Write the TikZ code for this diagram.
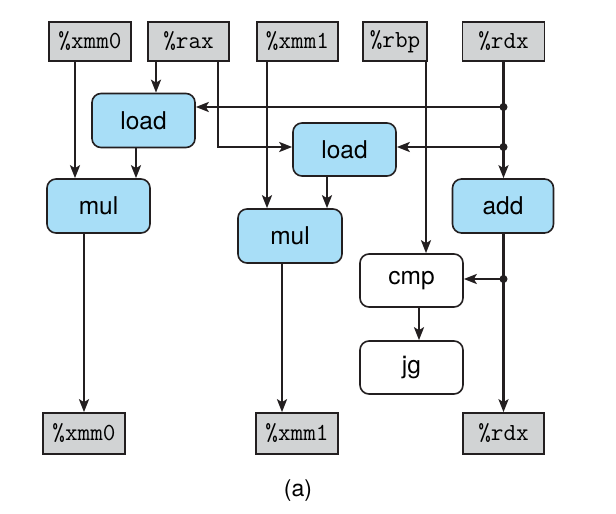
\documentclass[tikz,border=0pt]{standalone}
\usepackage{fontspec}
\setsansfont{TeX Gyre Heros}
\usetikzlibrary{arrows.meta}
\definecolor{edge}{HTML}{231F20}
\definecolor{opblue}{HTML}{A8DEF7}
\definecolor{reggray}{HTML}{D1D3D4}
\begin{document}
\begin{tikzpicture}[x=1pt,y=-1pt,
  reg/.style={draw=edge,line width=1.6pt,fill=reggray,minimum height=39pt,inner sep=0pt,font=\fontsize{24.5}{28}\selectfont\ttfamily},
  op/.style={draw=edge,line width=1.6pt,fill=opblue,rounded corners=9pt,minimum width=103pt,minimum height=54pt,inner sep=0pt,font=\fontsize{24.5}{28}\selectfont\sffamily},
  wop/.style={op,fill=white},
  arr/.style={draw=edge,line width=2.4pt,-{Stealth[length=13pt,width=10pt,inset=3pt]}},
  dot/.style={circle,fill=edge,inner sep=0pt,minimum size=8pt}]
\useasboundingbox (0,0) rectangle (616,514);
% top registers
\node[reg,minimum width=82pt] (xmm0T) at (90,41.5) {\%xmm0};
\node[reg,minimum width=81pt] (raxT) at (188.5,41.5) {\%rax};
\node[reg,minimum width=81pt] (xmm1T) at (297.5,41.5) {\%xmm1};
\node[reg,minimum width=64pt] (rbpT) at (395,41.5) {\%rbp};
\node[reg,minimum width=82pt] (rdxT) at (503.5,41.5) {\%rdx};
% operations
\node[op] (load1) at (143.5,120.5) {load};
\node[op,minimum height=53pt] (load2) at (344.5,149.5) {load};
\node[op] (mul1) at (98.5,206) {mul};
\node[op,minimum width=104pt] (mul2) at (290,236) {mul};
\node[op,minimum width=101pt] (add) at (503,206) {add};
\node[wop,minimum height=53pt] (cmp) at (411.5,280.5) {cmp};
\node[wop,minimum height=53pt] (jg) at (411.5,367.5) {jg};
% bottom registers
\node[reg,minimum width=82pt,minimum height=41pt] (xmm0B) at (84,433.5) {\%xmm0};
\node[reg,minimum width=82pt,minimum height=41pt] (xmm1B) at (297,433.5) {\%xmm1};
\node[reg,minimum width=81pt,minimum height=41pt] (rdxB) at (503.5,433.5) {\%rdx};
\node[font=\fontsize{23}{27}\selectfont\sffamily] (cap) at (298,491) {(a)};
% junctions on the %rdx line
\coordinate (j1) at (503.5,107);
\coordinate (j2) at (503.5,147);
\coordinate (j3) at (503.5,279);
% connectors
\draw[arr] ([xshift=-15pt]xmm0T.south) -- ([xshift=-15pt]xmm0T.south |- mul1.north);
\draw[arr] ([xshift=-32.5pt]raxT.south) -- ([xshift=-32.5pt]raxT.south |- load1.north);
\draw[arr] ([xshift=29.5pt]raxT.south) |- ([yshift=2.5pt]load2.west);
\draw[arr] ([xshift=-7.5pt]load1.south) -- ([xshift=-7.5pt]load1.south |- mul1.north);
\draw[arr] (rdxT.south) -- (rdxT.south |- add.north);
\draw[arr] (j1) -- (j1 -| load1.east);
\draw[arr] (j2) -- (j2 -| load2.east);
\draw[arr] ([xshift=-30.5pt]xmm1T.south) -- ([xshift=-30.5pt]xmm1T.south |- mul2.north);
\draw[arr] ([xshift=-17.5pt]load2.south) -- ([xshift=-17.5pt]load2.south |- mul2.north);
\draw[arr] ([xshift=31pt]rbpT.south) -- ([xshift=31pt]rbpT.south |- cmp.north);
\draw[arr] (add.south -| rdxB.north) -- (rdxB.north);
\draw[arr] (j3) -- (j3 -| cmp.east);
\draw[arr] ([xshift=7.5pt]cmp.south) -- ([xshift=7.5pt]cmp.south |- jg.north);
\draw[arr] (mul1.south -| xmm0B.north) -- (xmm0B.north);
\draw[arr] ([xshift=-8pt]mul2.south) -- ([xshift=-8pt]mul2.south |- xmm1B.north);
\node[dot] at (j1) {};
\node[dot] at (j2) {};
\node[dot] at (j3) {};
\end{tikzpicture}
\end{document}
